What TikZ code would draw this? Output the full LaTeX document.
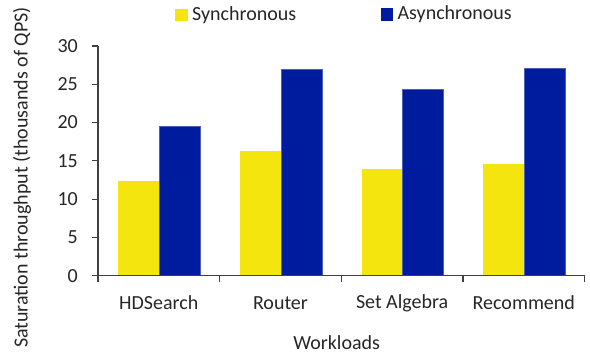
\documentclass[tikz,border=0pt]{standalone}
\usepackage{fontspec}
\setmainfont{Carlito}
\usepackage{xcolor}
\usepackage{tikz}
\usetikzlibrary{positioning}

\definecolor{syncyellow}{HTML}{F5E50F}
\definecolor{asyncblue}{HTML}{001C9E}
\definecolor{axisgray}{HTML}{404040}

\begin{document}
\begin{tikzpicture}[x=1pt,y=1pt,font=\fontsize{20}{24}\selectfont]
	\tikzstyle{axisline}=[draw=axisgray,line width=1.2pt]
	\tikzstyle{syncbar}=[fill=syncyellow]
	\tikzstyle{asyncbar}=[fill=asyncblue,draw=asyncblue!70!white,line width=0.6pt]
	\tikzstyle{ticklabel}=[anchor=east,inner sep=0pt,text=black!85]
	\tikzstyle{catlabel}=[inner sep=0pt,text=black!85]

	\useasboundingbox (0,0) rectangle (590,360);

	% axis frame
	\coordinate (O) at (98,84.3);
	\coordinate (T) at (98,314.1);
	\coordinate (E) at (584.7,84.3);

	% bars
	\foreach \nm/\sy/\as [count=\i from 0] in {HDSearch/12.4/19.45,Router/16.3/26.9,Set Algebra/13.9/24.3,Recommend/14.6/27.1}{
		\fill[syncbar] (118.3+121.67*\i,84.3) rectangle ++(41,7.66*\sy);
		\filldraw[asyncbar] (159.3+121.67*\i,84.3) rectangle ++(41,7.66*\as);
		\node[catlabel] (cat\i) at (158.8+121.67*\i,57) {\nm};
	}

	% y ticks
	\foreach \v in {0,5,...,30}{
		\draw[axisline] (92,84.3+7.66*\v) -- (98,84.3+7.66*\v);
		\node[ticklabel] (tick\v) at (78,84.3+7.66*\v) {\v};
	}
	% x ticks
	\foreach \i in {0,...,4}{
		\draw[axisline] (98+121.67*\i,84.3) -- ++(0,-6);
	}
	\draw[axisline] (T) -- (O) -- (E);

	% axis titles
	\node[rotate=90,inner sep=0pt,text=black!85] (ytitle) at (22,182.5) {Saturation throughput (thousands of QPS)};
	\node[inner sep=0pt,text=black!85] (xtitle) at (336.7,17) {Workloads};

	% legend
	\node[syncbar,minimum size=12.5pt,inner sep=0pt] (keysync) at (181.5,345) {};
	\node[right=4pt of keysync,inner sep=0pt,text=black!85] (txtsync) {Synchronous};
	\node[fill=asyncblue,minimum size=12.5pt,inner sep=0pt] (keyasync) at (387,345.5) {};
	\node[right=4pt of keyasync,inner sep=0pt,text=black!85] (txtasync) {Asynchronous};
\end{tikzpicture}
\end{document}
